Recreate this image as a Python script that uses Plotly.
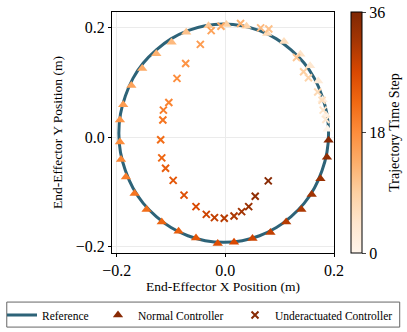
import plotly.graph_objects as go

# reference trajectory (10 degree spacing)
ref_x = [0.190, 0.187, 0.178, 0.164, 0.145, 0.121, 0.094, 0.063, 0.031, -0.003,
         -0.037, -0.069, -0.100, -0.127, -0.151, -0.170, -0.184, -0.193, -0.196,
         -0.193, -0.184, -0.170, -0.151, -0.127, -0.100, -0.069, -0.037, -0.003,
         0.031, 0.063, 0.094, 0.121, 0.145, 0.164, 0.178, 0.187, 0.190]
ref_y = [0.007, 0.042, 0.075, 0.107, 0.135, 0.159, 0.179, 0.194, 0.203, 0.206,
         0.203, 0.194, 0.179, 0.159, 0.135, 0.107, 0.075, 0.042, 0.007,
         -0.028, -0.061, -0.093, -0.121, -0.145, -0.165, -0.180, -0.189, -0.192,
         -0.189, -0.180, -0.165, -0.145, -0.121, -0.093, -0.061, -0.028, 0.007]

# normal controller, time steps 0..35
normal_t = list(range(36))
normal_x = [0.188, 0.185, 0.179, 0.171, 0.156, 0.138, 0.108, 0.077, 0.039, 0.002,
            -0.031, -0.072, -0.099, -0.127, -0.153, -0.173, -0.188, -0.194, -0.194,
            -0.192, -0.183, -0.167, -0.145, -0.117, -0.086, -0.054, -0.014, 0.016,
            0.050, 0.083, 0.112, 0.140, 0.159, 0.175, 0.187, 0.190]
normal_y = [0.014, 0.040, 0.068, 0.102, 0.130, 0.151, 0.174, 0.189, 0.202, 0.205,
            0.203, 0.191, 0.173, 0.152, 0.125, 0.094, 0.059, 0.031, -0.009,
            -0.041, -0.073, -0.103, -0.132, -0.155, -0.172, -0.184, -0.194, -0.192,
            -0.185, -0.174, -0.155, -0.132, -0.105, -0.076, -0.037, -0.006]

# underactuated controller, time steps 4..35
under_t = list(range(4, 36))
under_x = [0.185, 0.180, 0.178, 0.170, 0.153, 0.144, 0.131, 0.080, 0.065, 0.028,
           -0.008, -0.026, -0.046, -0.073, -0.089, -0.104, -0.114, -0.115, -0.119,
           -0.117, -0.110, -0.096, -0.076, -0.054, -0.035, -0.020, -0.002, 0.016,
           0.030, 0.043, 0.055, 0.079]
under_y = [0.032, 0.049, 0.067, 0.082, 0.108, 0.119, 0.145, 0.197, 0.199, 0.207,
           0.202, 0.194, 0.169, 0.134, 0.107, 0.063, 0.049, 0.031, -0.005,
           -0.038, -0.057, -0.079, -0.106, -0.127, -0.141, -0.147, -0.148, -0.144,
           -0.136, -0.127, -0.108, -0.080]

FONT = "Liberation Serif"
REF_COLOR = "#2d6378"
W, H = 407, 332

fig = go.Figure()
fig.add_trace(go.Scatter(
    x=ref_x, y=ref_y, mode="lines", name="Reference", legend="legend",
    line=dict(color=REF_COLOR, width=3, shape="spline"),
))
# reversed so the legend swatch takes the darkest colour
fig.add_trace(go.Scatter(
    x=normal_x[::-1], y=normal_y[::-1], mode="markers", name="Normal Controller",
    legend="legend2",
    marker=dict(
        symbol="triangle-up", size=9, color=normal_t[::-1],
        colorscale="Oranges", cmin=0, cmax=36,
        colorbar=dict(
            x=1.077, xanchor="left", xpad=0, ypad=0, y=0.5, len=1,
            thickness=11, outlinecolor="black", outlinewidth=1,
            tickvals=[0, 18, 36], ticks="outside", ticklen=4,
            tickfont=dict(family=FONT, size=16, color="black"),
            title=dict(text="Trajectory Time Step", side="right",
                       font=dict(family=FONT, size=14, color="black")),
        ),
    ),
))
fig.add_trace(go.Scatter(
    x=under_x[::-1], y=under_y[::-1], mode="markers", name="Underactuated Controller",
    legend="legend3",
    marker=dict(
        symbol="x-thin", size=7, color=under_t[::-1],
        colorscale="Oranges", cmin=0, cmax=36,
        line=dict(width=2, color=under_t[::-1], colorscale="Oranges", cmin=0, cmax=36),
    ),
))

axis = dict(
    showline=True, linecolor="black", linewidth=1, mirror=True,
    showgrid=True, gridcolor="#ebebeb", gridwidth=1, zeroline=False,
    ticks="outside", ticklen=3, tickcolor="black", automargin=False,
    tickfont=dict(family=FONT, size=16, color="black"),
    tickformat=".1f",
)
fig.update_xaxes(axis, range=[-0.2086, 0.2], tickvals=[-0.2, 0.0, 0.2],
                 title=dict(text="End-Effector X Position (m)", standoff=3,
                            font=dict(family=FONT, size=13.5, color="black")))
fig.update_yaxes(axis, range=[-0.2115, 0.228], tickvals=[-0.2, 0.0, 0.2],
                 title=dict(text="End-Effector Y Position (m)", standoff=10,
                            font=dict(family=FONT, size=13.5, color="black")))

# one legend per entry so the row is not wrapped; a frame drawn round them
leg = dict(orientation="h", xref="container", yref="container",
           xanchor="left", yanchor="middle", y=(H - 315) / H,
           borderwidth=0, bgcolor="rgba(0,0,0,0)",
           font=dict(family=FONT, size=11.5, color="black"))
fig.update_layout(
    width=W, height=H,
    margin=dict(l=112, r=73, t=12, b=79, autoexpand=False),
    plot_bgcolor="white", paper_bgcolor="white",
    showlegend=True,
    legend=dict(leg, x=2 / W),
    legend2=dict(leg, x=98 / W),
    legend3=dict(leg, x=235 / W),
    shapes=[dict(type="rect", xref="paper", yref="paper",
                 x0=-0.474, x1=1.296, y0=-0.3074, y1=-0.2036,
                 line=dict(color="#666666", width=1), layer="below")],
)

fig.write_html("out.html", config={"displayModeBar": False},
               post_script="document.body.style.margin = '0';")
